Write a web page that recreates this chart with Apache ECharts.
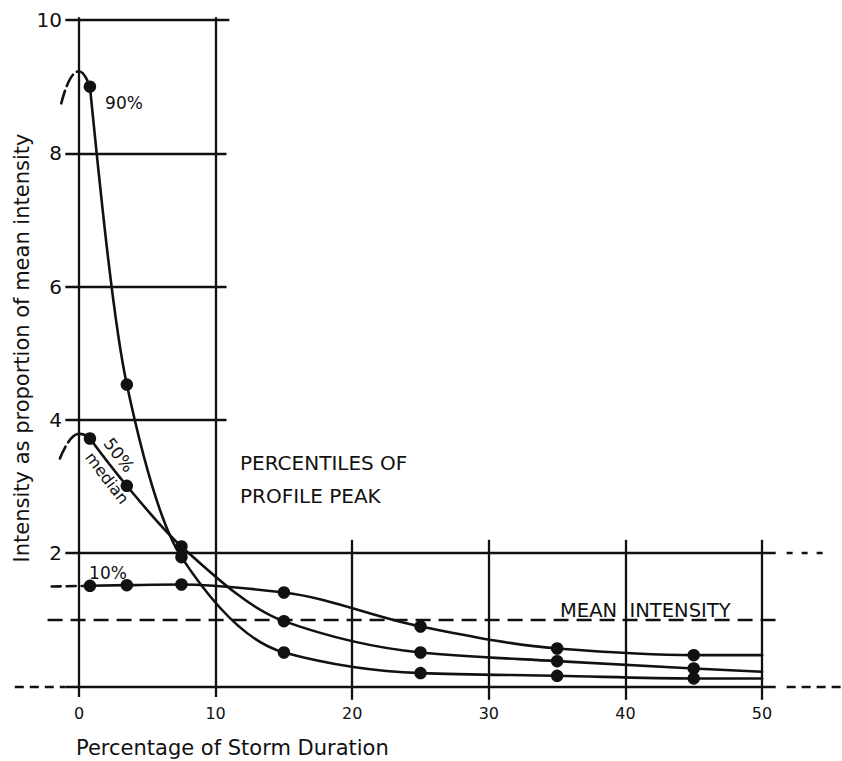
<!DOCTYPE html>
<html>
<head>
<meta charset="utf-8">
<script src="https://cdn.jsdelivr.net/npm/echarts/dist/echarts.min.js"></script>
<style>
html,body{margin:0;padding:0;background:#ffffff;}
#chart{width:842px;height:761px;}
</style>
</head>
<body>
<div id="chart"></div>
<script>
// ---- data ----
const durationPct = [0.8, 3.5, 7.5, 15, 25, 35, 45];
const p90 = [9.0, 4.53, 1.94, 0.51, 0.20, 0.16, 0.12];
const p50 = [3.72, 3.01, 2.10, 0.98, 0.51, 0.38, 0.27];
const p10 = [1.51, 1.52, 1.53, 1.41, 0.90, 0.57, 0.47];
const curveEndX = 50;
const p90End = 0.12;
const p50End = 0.22;
const p10End = 0.47;
// extrapolated (dashed) lead-in toward the profile peak
const p90LeadX = [-1.3, 0, 0.8];
const p90LeadY = [8.75, 9.23, 9.0];
const p50LeadX = [-1.4, 0, 0.8];
const p50LeadY = [3.42, 3.79, 3.72];
const p10LeadX = [-2.0, 0.8];
const p10LeadY = [1.5, 1.51];
const meanIntensity = 1;
const xTickLabels = [0, 10, 20, 30, 40, 50];
const yTickLabels = [2, 4, 6, 8, 10];

const FONT = 'DejaVu Sans';
const INK = '#111111';

function pairs(xs, ys) { return xs.map((x, i) => [x, ys[i]]); }
function seg(x1, y1, x2, y2) { return [{ coord: [x1, y1] }, { coord: [x2, y2] }]; }

// shape-preserving (PCHIP) tangents, used only to draw smooth strokes between the read points
function endSlope(h0, h1, d0, d1) {
  let m = ((2 * h0 + h1) * d0 - h0 * d1) / (h0 + h1);
  if (Math.sign(m) !== Math.sign(d0)) m = 0;
  else if (Math.sign(d0) !== Math.sign(d1) && Math.abs(m) > Math.abs(3 * d0)) m = 3 * d0;
  return m;
}
function tangents(xs, ys) {
  const n = xs.length, h = [], d = [], m = new Array(n);
  for (let i = 0; i < n - 1; i++) { h[i] = xs[i + 1] - xs[i]; d[i] = (ys[i + 1] - ys[i]) / h[i]; }
  if (n === 2) { m[0] = m[1] = d[0]; return m; }
  for (let k = 1; k < n - 1; k++) {
    if (d[k - 1] * d[k] <= 0) m[k] = 0;
    else {
      const w1 = 2 * h[k] + h[k - 1], w2 = h[k] + 2 * h[k - 1];
      m[k] = (w1 + w2) / (w1 / d[k - 1] + w2 / d[k]);
    }
  }
  m[0] = endSlope(h[0], h[1], d[0], d[1]);
  m[n - 1] = endSlope(h[n - 2], h[n - 3], d[n - 2], d[n - 3]);
  return m;
}

function curveSeries(name, xs, ys, lineDash, z) {
  const m = tangents(xs, ys);
  return {
    name: name, type: 'custom', data: pairs(xs, ys), clip: false, silent: true, z: z,
    animation: false,
    renderItem: function (params, api) {
      const i = params.dataIndexInside;
      if (i >= xs.length - 1) return null;
      const x0 = api.value(0, i), y0 = api.value(1, i);
      const x1 = api.value(0, i + 1), y1 = api.value(1, i + 1);
      const h = x1 - x0;
      const p0 = api.coord([x0, y0]);
      const c1 = api.coord([x0 + h / 3, y0 + m[i] * h / 3]);
      const c2 = api.coord([x1 - h / 3, y1 - m[i + 1] * h / 3]);
      const p1 = api.coord([x1, y1]);
      return {
        type: 'bezierCurve',
        shape: { x1: p0[0], y1: p0[1], cpx1: c1[0], cpy1: c1[1], cpx2: c2[0], cpy2: c2[1], x2: p1[0], y2: p1[1] },
        style: { stroke: INK, fill: 'none', lineWidth: 2.6, lineDash: lineDash, lineCap: 'round' }
      };
    }
  };
}
function dotSeries(name, ys) {
  return {
    name: name, type: 'scatter', data: pairs(durationPct, ys),
    symbol: 'circle', symbolSize: 12.5, itemStyle: { color: INK, opacity: 1 },
    z: 6, animation: false, silent: true
  };
}

// grid segments (data units)
const solidSegs = [
  seg(-1.0, 10, 11.0, 10),
  seg(-1.0, 8, 10.8, 8),
  seg(-1.0, 6, 10.8, 6),
  seg(-1.0, 4, 10.8, 4),
  seg(-1.0, 2, 51.0, 2),
  seg(-1.0, 0, 51.0, 0),
  seg(0, 10.04, 0, -0.16),
  seg(10, 10.04, 10, -0.16),
  seg(20, 2.2, 20, -0.2),
  seg(30, 2.2, 30, -0.2),
  seg(40, 2.2, 40, -0.2),
  seg(50, 2.2, 50, -0.2)
];
const zeroExtSegs = [seg(-4.7, 0, -1.0, 0), seg(51.8, 0, 56, 0)];
const twoExtSegs = [seg(51.8, 2, 54.6, 2)];
const meanSegs = [seg(-2.3, meanIntensity, 51.5, meanIntensity)];

function helper(name, segs, lineStyle) {
  return {
    name: name, type: 'line', data: [], silent: true, z: 1,
    markLine: {
      silent: true, symbol: ['none', 'none'], animation: false,
      label: { show: false },
      lineStyle: Object.assign({ color: INK, width: 2.3 }, lineStyle),
      emphasis: { disabled: true },
      data: segs
    }
  };
}

const GRID_LEFT = 10.7, GRID_TOP = 0, GRID_W = 833.3, GRID_H = 753.1;

const chart = echarts.init(document.getElementById('chart'), null, { renderer: 'svg' });
chart.setOption({
  backgroundColor: '#ffffff',
  animation: false,
  grid: { left: GRID_LEFT, top: GRID_TOP, width: GRID_W, height: GRID_H, containLabel: false, outerBoundsMode: 'none' },
  xAxis: {
    type: 'value', min: -5, max: 56, interval: 5,
    axisLine: { show: false, onZero: false },
    axisTick: { show: false },
    splitLine: { show: false },
    axisLabel: {
      margin: -48, color: INK, fontFamily: FONT, fontSize: 16,
      showMinLabel: true, showMaxLabel: true,
      formatter: v => xTickLabels.includes(v) ? String(v) : ''
    }
  },
  yAxis: {
    type: 'value', min: -1, max: 10.3, interval: 1,
    axisLine: { show: false, onZero: false },
    axisTick: { show: false },
    splitLine: { show: false },
    axisLabel: {
      margin: -51.3, color: INK, fontFamily: FONT, fontSize: 20,
      formatter: v => yTickLabels.includes(v) ? String(v) : ''
    }
  },
  series: [
    helper('grid', solidSegs, { type: 'solid' }),
    helper('zeroExt', zeroExtSegs, { type: [9, 6] }),
    helper('twoExt', twoExtSegs, { type: [6, 9] }),
    helper('mean', meanSegs, { type: [15, 8] }),
    curveSeries('90% lead', p90LeadX, p90LeadY, [13, 5], 4),
    curveSeries('50% lead', p50LeadX, p50LeadY, [13, 5], 4),
    curveSeries('10% lead', p10LeadX, p10LeadY, [9, 6], 4),
    curveSeries('90%', durationPct.concat([curveEndX]), p90.concat([p90End]), null, 5),
    curveSeries('50% median', durationPct.concat([curveEndX]), p50.concat([p50End]), null, 5),
    curveSeries('10%', durationPct.concat([curveEndX]), p10.concat([p10End]), null, 5),
    dotSeries('90% points', p90),
    dotSeries('50% points', p50),
    dotSeries('10% points', p10)
  ],
  graphic: [
    { type: 'text', x: 22, y: 348, rotation: Math.PI / 2,
      style: { text: 'Intensity as proportion of mean intensity', fontFamily: FONT, fontSize: 21, fill: INK, align: 'center', verticalAlign: 'middle' } },
    { type: 'text', x: 76, y: 748,
      style: { text: 'Percentage of Storm Duration', fontFamily: FONT, fontSize: 21, fill: INK, align: 'left', verticalAlign: 'middle' } },
    { type: 'text', x: 240, y: 463,
      style: { text: 'PERCENTILES OF', fontFamily: FONT, fontSize: 20, fill: INK, align: 'left', verticalAlign: 'middle' } },
    { type: 'text', x: 240, y: 496,
      style: { text: 'PROFILE PEAK', fontFamily: FONT, fontSize: 20, fill: INK, align: 'left', verticalAlign: 'middle' } },
    { type: 'text', x: 560, y: 610,
      style: { text: 'MEAN  INTENSITY', fontFamily: FONT, fontSize: 19.5, fill: INK, align: 'left', verticalAlign: 'middle' } },
    { type: 'text', x: 124, y: 103,
      style: { text: '90%', fontFamily: FONT, fontSize: 17, fill: INK, align: 'center', verticalAlign: 'middle' } },
    { type: 'text', x: 108, y: 573,
      style: { text: '10%', fontFamily: FONT, fontSize: 17, fill: INK, align: 'center', verticalAlign: 'middle' } },
    { type: 'text', x: 119, y: 455, rotation: -0.92,
      style: { text: '50%', fontFamily: FONT, fontSize: 17, fill: INK, align: 'center', verticalAlign: 'middle' } },
    { type: 'text', x: 107, y: 478, rotation: -0.92,
      style: { text: 'median', fontFamily: FONT, fontSize: 16, fill: INK, align: 'center', verticalAlign: 'middle' } }
  ]
});
</script>
</body>
</html>
